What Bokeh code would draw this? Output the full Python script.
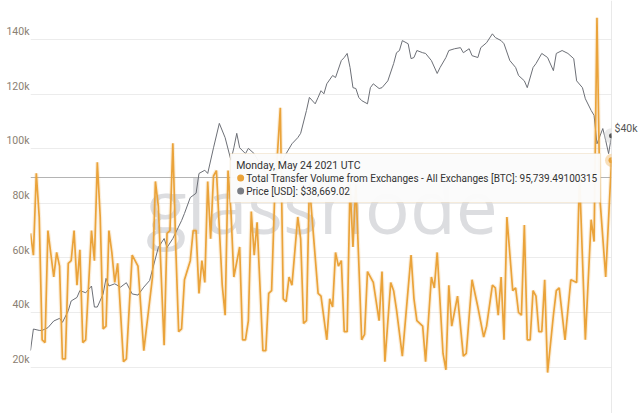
from bokeh.plotting import figure
from bokeh.models import (Range1d, LogAxis, LogScale, FixedTicker, NumeralTickFormatter,
                          Span, BoxAnnotation, Label)
from bokeh.embed import file_html
from bokeh.resources import INLINE

# ---------------- data ----------------
start_date = "2020-11-05"          # day 0
hover_day = 200                    # Monday, May 24 2021
hover_title = "Monday, May 24 2021 UTC"
hover_volume = 95739.49100315
hover_price = 38669.02

vol_days = [0, 1, 2, 3, 4, 5, 6, 8, 9, 10,
            11, 12, 13, 14, 15, 16, 17, 18, 19, 21,
            22, 23, 24, 25, 26, 27, 28, 29, 30, 32,
            33, 35, 37, 39, 42, 43, 44, 46, 47, 48,
            49, 50, 51, 52, 53, 55, 56, 57, 58, 59,
            60, 61, 62, 63, 64, 66, 67, 68, 69, 70,
            72, 73, 74, 75, 76, 77, 78, 80, 81, 82,
            83, 84, 86, 87, 88, 89, 90, 92, 93, 94,
            95, 96, 99, 100, 102, 103, 104, 105, 106, 107,
            108, 109, 110, 111, 112, 114, 115, 116, 118, 120,
            121, 122, 124, 125, 126, 128, 131, 132, 133, 135,
            136, 138, 139, 140, 142, 143, 144, 145, 147, 149,
            150, 152, 154, 156, 157, 159, 160, 161, 162, 163,
            164, 166, 167, 168, 169, 170, 171, 172, 173, 174,
            175, 176, 177, 178, 180, 181, 182, 184, 186, 188,
            189, 191, 193, 194, 195, 196, 198, 200]
vol_kbtc = [69, 61, 91, 75, 30, 29, 70, 53, 62, 57,
            23, 23, 58, 59, 70, 50, 63, 29, 30, 70,
            59, 95, 75, 34, 35, 70, 62, 51, 58, 22,
            23, 61, 57, 26, 53, 88, 79, 28, 69, 70,
            102, 64, 33, 34, 52, 59, 70, 70, 47, 59,
            51, 88, 67, 90, 92, 50, 39, 92, 77, 53,
            64, 30, 30, 37, 77, 61, 73, 26, 26, 47,
            48, 81, 115, 45, 44, 53, 50, 75, 67, 36,
            37, 87, 47, 46, 30, 45, 42, 62, 57, 59,
            33, 33, 87, 64, 87, 30, 32, 55, 51, 37,
            55, 22, 51, 48, 41, 24, 61, 45, 37, 35,
            22, 53, 49, 62, 25, 19, 50, 35, 46, 24,
            25, 52, 42, 31, 35, 50, 49, 39, 53, 30,
            75, 48, 49, 40, 39, 72, 30, 30, 48, 46,
            33, 33, 52, 18, 39, 48, 49, 30, 52, 51,
            90, 30, 74, 66, 148, 82, 53, 95.73949100315]

price_days = [0, 1, 3, 4, 6, 8, 10, 11, 13, 14, 16, 17, 19, 21, 22, 23, 25, 26, 27, 29,
              31, 33, 35, 37, 39, 41, 44, 46, 47, 49, 52, 53, 55, 57, 58, 60, 61, 63, 65, 67,
              69, 70, 71, 72, 74, 75, 77, 80, 83, 86, 88, 90, 92, 93, 95, 96, 98, 99, 100, 101,
              102, 104, 105, 107, 108, 109, 110, 111, 112, 113, 114, 116, 117, 118, 120, 121, 123, 125, 126, 127,
              128, 130, 131, 132, 133, 135, 136, 138, 140, 141, 143, 144, 146, 148, 149, 151, 152, 154, 155, 157,
              159, 160, 162, 163, 165, 167, 168, 170, 171, 173, 174, 176, 178, 180, 181, 183, 185, 187, 188, 190,
              191, 193, 194, 195, 197, 198, 199, 200]
price_kusd = [13.9, 15.4, 15.3, 15.3, 15.5, 16.0, 16.2, 15.9, 16.8, 17.6, 17.9, 18.5, 18.3, 18.9, 17.1, 17.1, 18.2, 19.6, 18.9, 19.1,
              18.8, 19.2, 18.2, 18.1, 18.8, 19.4, 22.7, 23.7, 22.7, 23.7, 25.8, 26.7, 28.8, 29.4, 32.3, 32.8, 32.3, 36.5, 41.0, 38.3,
              34.4, 36.5, 39.1, 36.5, 35.5, 36.4, 35.5, 33.0, 31.5, 33.5, 35.5, 37.2, 38.3, 39.1, 43.6, 46.4, 45.0, 46.4, 47.9, 47.2,
              49.5, 51.5, 51.0, 55.3, 56.1, 57.2, 53.5, 48.6, 48.4, 46.4, 45.7, 45.0, 48.6, 49.5, 48.4, 48.6, 50.2, 54.5, 57.4, 58.0,
              60.8, 59.9, 55.8, 56.1, 58.0, 57.4, 57.2, 55.3, 52.0, 53.5, 56.1, 58.0, 58.5, 58.8, 57.4, 58.5, 56.6, 56.1, 58.8, 60.2,
              62.8, 61.7, 60.8, 59.9, 55.3, 53.5, 51.5, 50.2, 48.6, 53.5, 54.5, 57.2, 56.1, 52.7, 57.2, 58.0, 57.2, 55.8, 50.2, 48.6,
              46.1, 43.6, 42.6, 37.2, 40.0, 37.8, 35.5, 38.66902]

y_ticks = [20000, 40000, 60000, 80000, 100000, 120000, 140000]
y_tick_labels = ["20k", "40k", "60k", "80k", "100k", "120k", "140k"]
price_ticks = [40000]
price_tick_labels = {40000: "$40k"}

vol_btc = [v * 1000 for v in vol_kbtc]
price_usd = [v * 1000 for v in price_kusd]

# ---------------- styling ----------------
ORANGE = "#eaa33a"
GRAY_LINE = "#6c6f76"
FONT = "Roboto"

# helpers to place annotations at pixel positions of the canvas (layout only)
def dx(px):
    return (px - 30) / 582.0 * 200.0

def dy(py):
    return (421.2 - py) / 2.73 * 1000.0

p = figure(width=640, height=413, output_backend="svg", toolbar_location=None,
           x_range=Range1d(0, 200), y_range=Range1d(dy(413), dy(0)),
           x_axis_location=None,
           min_border_left=30, min_border_right=28, min_border_top=0, min_border_bottom=0)
p.extra_y_ranges = {"price": Range1d(10300, 73600)}
p.extra_y_scales = {"price": LogScale()}
p.outline_line_color = None
p.background_fill_color = "white"
p.border_fill_color = "white"

p.xgrid.visible = False
p.ygrid.grid_line_color = "#ececec"
p.ygrid.grid_line_width = 1

ya = p.yaxis[0]
ya.ticker = FixedTicker(ticks=y_ticks)
ya.formatter = NumeralTickFormatter(format="0a")
# trailing empty line lifts each label just above its grid line, as in the original
ya.major_label_overrides = {t: lab + "\n" for t, lab in zip(y_ticks, y_tick_labels)}
ya.axis_line_color = None
ya.major_tick_line_color = None
ya.minor_tick_line_color = None
ya.major_tick_out = 0
ya.minor_tick_out = 0
ya.major_label_text_color = "#8b8072"
ya.major_label_text_font = FONT
ya.major_label_text_font_size = "10.5px"
ya.major_label_standoff = 1

ra = LogAxis(y_range_name="price", ticker=FixedTicker(ticks=price_ticks),
             major_label_overrides=price_tick_labels)
ra.axis_line_color = None
ra.major_tick_line_color = None
ra.minor_tick_line_color = None
ra.major_tick_out = 0
ra.minor_tick_out = 0
ra.major_label_text_color = "#555555"
ra.major_label_text_font = FONT
ra.major_label_text_font_size = "10.5px"
ra.major_label_standoff = 3
p.add_layout(ra, "right")

# watermark
p.add_layout(Label(x=dx(322), y=dy(204), text="glassnode", text_align="center",
                   text_baseline="alphabetic", text_font="Open Sans",
                   text_font_size="75px", text_color="#dcdde0", level="underlay"))

# crosshair lines
p.add_layout(Span(location=hover_day, dimension="height", line_color="#d4d4d4",
                  line_width=1, level="underlay"))
p.add_layout(Span(location=dy(177), dimension="width", line_color="#b4b4b4",
                  line_width=1, level="underlay"))

# series
p.line(price_days, price_usd, y_range_name="price", line_color=GRAY_LINE, line_width=1)
p.line(vol_days, vol_btc, line_color=ORANGE, line_width=4, line_alpha=0.18)
p.line(vol_days, vol_btc, line_color=ORANGE, line_width=1.7)

# hover markers
p.scatter([hover_day], [hover_price], y_range_name="price", size=15,
          fill_color="#d0d0d0", fill_alpha=0.45, line_color=None)
p.scatter([hover_day], [hover_price], y_range_name="price", size=5,
          fill_color="#555555", line_color=None)
p.scatter([hover_day], [hover_volume], size=13, fill_color=ORANGE,
          fill_alpha=0.35, line_color=None)
p.scatter([hover_day], [hover_volume], size=6, fill_color=ORANGE, line_color=None)

# tooltip
p.add_layout(BoxAnnotation(left=dx(230), right=dx(601), top=dy(153), bottom=dy(202),
                           fill_color="#fbfbfb", fill_alpha=0.96,
                           line_color="#e3c48e", line_width=1))
p.add_layout(Label(x=dx(236), y=dy(164.5), text=hover_title, text_baseline="middle",
                   text_font=FONT, text_font_size="10.5px", text_color="#333333"))
p.add_layout(Label(x=dx(246), y=dy(177.5),
                   text=f"Total Transfer Volume from Exchanges - All Exchanges [BTC]: {hover_volume:,.8f}",
                   text_baseline="middle", text_font=FONT, text_font_size="10px",
                   text_color="#333333"))
p.add_layout(Label(x=dx(246), y=dy(190.5), text=f"Price [USD]: ${hover_price:,.2f}",
                   text_baseline="middle", text_font=FONT, text_font_size="10px",
                   text_color="#333333"))
p.scatter([dx(240.5)], [dy(177.5)], size=7, fill_color=ORANGE, line_color=None, level="overlay")
p.scatter([dx(240.5)], [dy(190.5)], size=7, fill_color="#7a7d84", line_color=None, level="overlay")

open("out.html", "w").write(file_html(p, INLINE))
